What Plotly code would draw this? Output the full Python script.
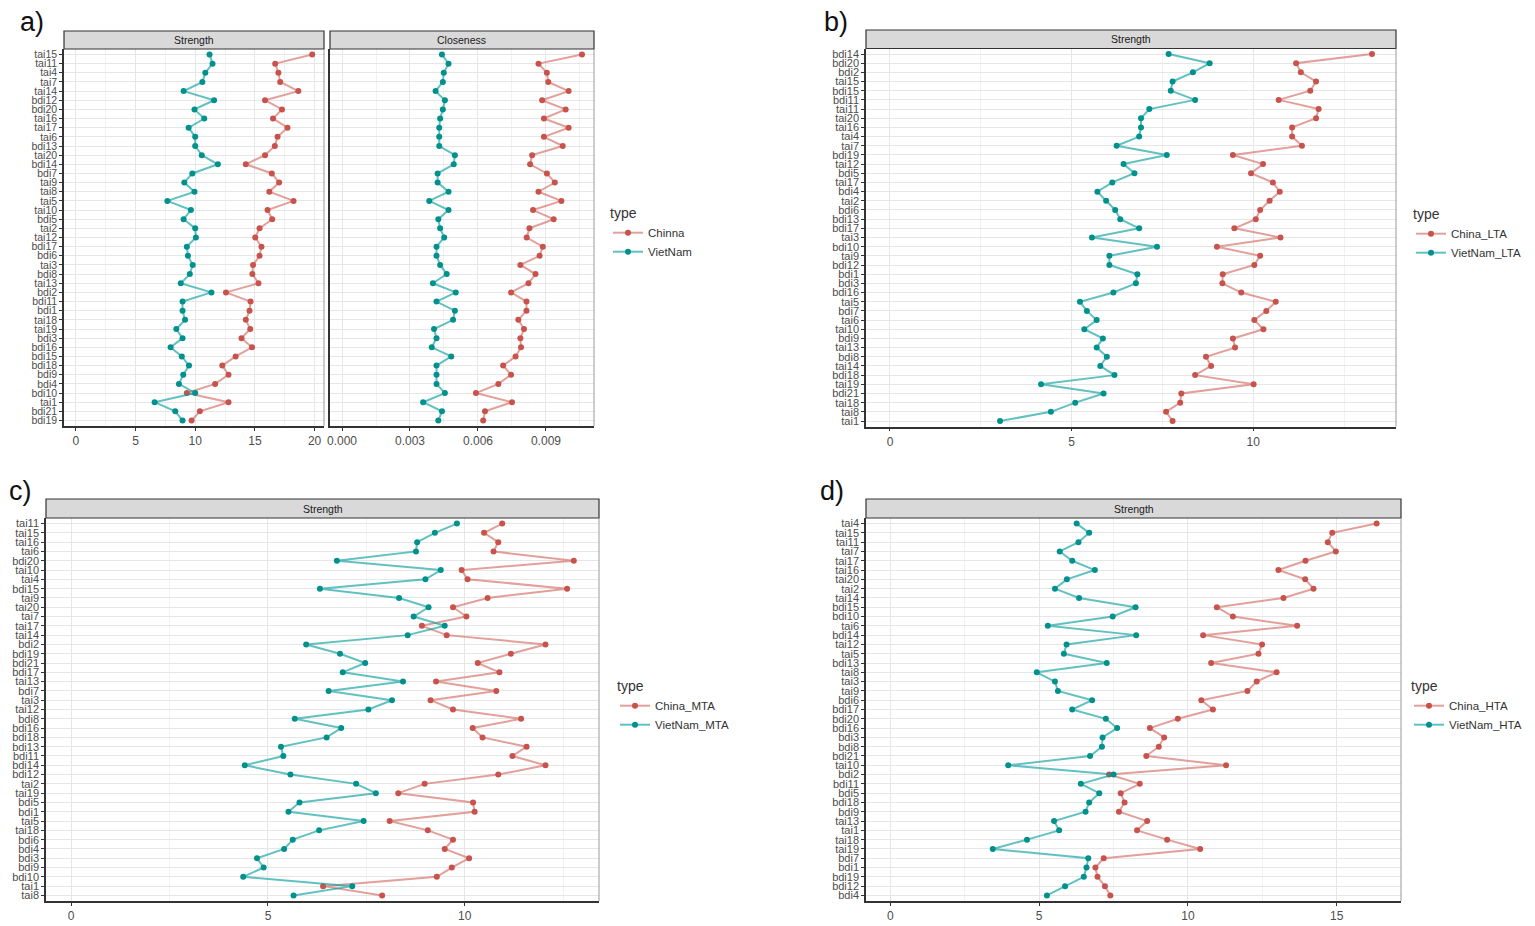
import plotly.graph_objects as go

# ---- data ----
# a) Strength + Closeness, China vs VietNam
a_nodes = ["tai15", "tai11", "tai4", "tai7", "tai14", "bdi12", "bdi20", "tai16", "tai17", "tai6",
           "bdi13", "tai20", "bdi14", "bdi7", "tai9", "tai8", "tai5", "tai10", "bdi5", "tai2",
           "tai12", "bdi17", "bdi6", "tai3", "bdi8", "tai13", "bdi2", "bdi11", "bdi1", "tai18",
           "tai19", "bdi3", "bdi16", "bdi15", "bdi18", "bdi9", "bdi4", "bdi10", "tai1", "bdi21", "bdi19"]
a_strength_china = [19.8, 16.7, 16.97, 17.12, 18.64, 15.85, 17.27, 16.52, 17.73, 16.9,
                    16.67, 15.85, 14.24, 16.42, 17.03, 16.21, 18.24, 16.06, 16.45, 15.39,
                    15.03, 15.55, 15.39, 14.85, 14.79, 15.3, 12.58, 14.64, 14.55, 14.24,
                    14.61, 13.88, 14.76, 13.39, 12.27, 12.79, 11.67, 9.3, 12.79, 10.39, 9.7]
a_strength_vn = [11.2, 11.45, 10.85, 10.6, 9.03, 11.58, 9.94, 10.76, 9.45, 10.0,
                 10.0, 10.55, 11.9, 9.76, 9.09, 9.94, 7.67, 9.64, 9.03, 10.0,
                 10.06, 9.3, 9.39, 9.79, 9.55, 8.79, 11.36, 8.94, 8.94, 9.15,
                 8.42, 8.94, 7.94, 8.88, 9.48, 9.0, 8.64, 10.0, 6.6, 8.33, 8.94]
a_close_china = [0.01059, 0.00867, 0.00904, 0.0091, 0.01, 0.00883, 0.00987, 0.00891, 0.01, 0.00891,
                 0.00974, 0.00839, 0.0083, 0.00904, 0.00939, 0.00867, 0.00968, 0.00843, 0.00934, 0.00827,
                 0.00815, 0.00886, 0.00872, 0.00787, 0.00854, 0.00823, 0.00746, 0.00814, 0.00814, 0.00778,
                 0.00803, 0.00787, 0.0079, 0.00766, 0.00711, 0.00746, 0.0069, 0.00591, 0.0075, 0.00631, 0.00623]
a_close_vn = [0.00441, 0.0047, 0.00449, 0.00445, 0.00413, 0.00454, 0.00445, 0.00433, 0.00429, 0.00429,
              0.00429, 0.00498, 0.00493, 0.00422, 0.00422, 0.0047, 0.00385, 0.0047, 0.00425, 0.00433,
              0.00451, 0.00417, 0.00417, 0.00433, 0.00462, 0.00401, 0.00502, 0.00417, 0.00498, 0.0049,
              0.00406, 0.00417, 0.00396, 0.00482, 0.00417, 0.00417, 0.00417, 0.00454, 0.00358, 0.00441, 0.00425]

# b) Strength, LTA
b_nodes = ["bdi14", "bdi20", "bdi2", "tai15", "bdi15", "bdi11", "tai11", "tai20", "tai16", "tai4",
           "tai7", "bdi19", "tai12", "bdi5", "tai17", "bdi4", "tai2", "bdi6", "bdi13", "bdi17",
           "tai3", "bdi10", "tai9", "bdi12", "bdi1", "bdi3", "bdi16", "tai5", "bdi7", "tai6",
           "tai10", "bdi9", "tai13", "bdi8", "tai14", "bdi18", "tai19", "bdi21", "tai18", "tai8", "tai1"]
b_china = [13.27, 11.18, 11.31, 11.73, 11.57, 10.7, 11.8, 11.73, 11.07, 11.07,
           11.34, 9.44, 10.27, 9.94, 10.54, 10.73, 10.45, 10.19, 10.07, 9.48,
           10.75, 9.0, 10.19, 10.03, 9.16, 9.15, 9.67, 10.62, 10.36, 10.03,
           10.28, 9.44, 9.5, 8.7, 8.84, 8.4, 10.01, 8.02, 7.99, 7.6, 7.78]
b_vn = [7.67, 8.8, 8.34, 7.78, 7.73, 8.4, 7.14, 6.91, 6.91, 6.86,
        6.24, 7.62, 6.43, 6.73, 6.12, 5.71, 5.95, 6.2, 6.34, 6.86,
        5.56, 7.35, 6.04, 6.04, 6.81, 6.77, 6.15, 5.23, 5.42, 5.69,
        5.35, 5.86, 5.69, 5.97, 5.79, 6.18, 4.16, 5.88, 5.1, 4.43, 3.03]

# c) Strength, MTA
c_nodes = ["tai11", "tai15", "tai16", "tai6", "bdi20", "tai10", "tai4", "bdi15", "tai9", "tai20",
           "tai7", "tai17", "tai14", "bdi2", "bdi19", "bdi21", "bdi17", "tai13", "bdi7", "tai3",
           "tai12", "bdi8", "bdi16", "bdi18", "bdi13", "bdi11", "bdi14", "bdi12", "tai2", "tai19",
           "bdi5", "bdi1", "tai5", "tai18", "bdi6", "bdi4", "bdi3", "bdi9", "bdi10", "tai1", "tai8"]
c_china = [10.95, 10.49, 10.85, 10.73, 12.77, 9.92, 10.07, 12.6, 10.58, 9.7,
           10.04, 8.91, 9.54, 12.05, 11.17, 10.33, 10.88, 9.27, 10.8, 9.13,
           9.7, 11.43, 10.2, 10.45, 11.57, 11.21, 12.05, 10.85, 8.98, 8.31,
           10.21, 10.25, 8.09, 9.06, 9.7, 9.49, 10.11, 9.67, 9.29, 6.4, 7.9]
c_vn = [9.8, 9.24, 8.79, 8.76, 6.75, 9.39, 9.0, 6.32, 8.33, 9.08,
        8.7, 9.49, 8.55, 5.97, 6.83, 7.47, 6.9, 8.43, 6.54, 8.15,
        7.55, 5.68, 6.86, 6.49, 5.33, 5.39, 4.41, 5.57, 7.24, 7.74,
        5.8, 5.52, 7.43, 6.3, 5.63, 5.41, 4.72, 4.89, 4.37, 7.14, 5.65]

# d) Strength, HTA
d_nodes = ["tai4", "tai15", "tai11", "tai7", "tai17", "tai16", "tai20", "tai2", "tai14", "bdi15",
           "bdi10", "tai6", "bdi14", "tai12", "tai5", "bdi13", "tai8", "tai3", "tai9", "bdi6",
           "bdi17", "bdi20", "bdi16", "bdi3", "bdi8", "bdi21", "tai10", "bdi2", "bdi11", "bdi5",
           "bdi18", "bdi9", "tai13", "tai1", "tai18", "tai19", "bdi7", "bdi1", "bdi19", "bdi12", "bdi4"]
d_china = [16.34, 14.85, 14.7, 14.97, 13.95, 13.04, 13.94, 14.22, 13.21, 10.97,
           11.51, 13.67, 10.51, 12.49, 12.37, 10.78, 12.98, 12.31, 12.0, 10.45,
           10.84, 9.66, 8.72, 9.2, 9.02, 8.6, 11.28, 7.35, 8.38, 7.74,
           7.87, 7.68, 8.63, 8.29, 9.3, 10.41, 7.17, 6.89, 6.96, 7.21, 7.39]
d_vn = [6.26, 6.68, 6.32, 5.69, 6.11, 6.87, 5.93, 5.53, 6.34, 8.24,
        7.47, 5.29, 8.26, 5.92, 5.83, 7.27, 4.92, 5.53, 5.63, 6.78,
        6.11, 7.24, 7.62, 7.13, 7.11, 6.71, 3.96, 7.5, 6.4, 7.02,
        6.68, 6.56, 5.5, 5.67, 4.59, 3.44, 6.65, 6.59, 6.5, 5.87, 5.26]

# the page body has an 8px margin, so the figure is a bit smaller than the window
OFF = 8
W, H = 1535 - OFF, 926 - OFF
RED_PT, RED_LN = "#C8524C", "rgba(210,100,92,0.62)"
TEAL_PT, TEAL_LN = "#00918D", "rgba(0,155,155,0.62)"
GRID, MINOR = "#E6E6E6", "#F2F2F2"


def fx(x):
    return (x - OFF) / W


def fy(y):
    return 1 - (y - OFF) / H


def px_x(a, b):
    return [fx(a), fx(b)]


def px_y(top, bottom):
    return [fy(bottom), fy(top)]


fig = go.Figure()


def add_pair(x_cn, x_vn, nodes, xa, ya, names, legend):
    for vals, name, pt, ln in [(x_cn, names[0], RED_PT, RED_LN),
                               (x_vn, names[1], TEAL_PT, TEAL_LN)]:
        fig.add_trace(go.Scatter(x=vals, y=nodes, mode="lines+markers", name=name,
                                 line=dict(color=ln, width=2),
                                 marker=dict(color=pt, size=6),
                                 xaxis=xa, yaxis=ya, legend=legend, showlegend=names[2]))


add_pair(a_strength_china, a_strength_vn, a_nodes, "x", "y", ("Chinna", "VietNam", True), "legend")
add_pair(a_close_china, a_close_vn, a_nodes, "x2", "y2", ("Chinna", "VietNam", False), "legend")
add_pair(b_china, b_vn, b_nodes, "x3", "y3", ("China_LTA", "VietNam_LTA", True), "legend2")
add_pair(c_china, c_vn, c_nodes, "x4", "y4", ("China_MTA", "VietNam_MTA", True), "legend3")
add_pair(d_china, d_vn, d_nodes, "x5", "y5", ("China_HTA", "VietNam_HTA", True), "legend4")


def xcfg(domain, anchor, rng, dtick, minor, fmt=None):
    d = dict(domain=domain, anchor=anchor, range=rng, dtick=dtick, tick0=0,
             showgrid=True, gridcolor=GRID, zeroline=False,
             minor=dict(dtick=minor, tick0=0, showgrid=True, gridcolor=MINOR),
             showline=True, linecolor="#333333", linewidth=1.5,
             ticks="outside", ticklen=3, tickcolor="#333333",
             tickfont=dict(size=12, color="#4D4D4D", family="Liberation Sans"))
    if fmt:
        d["tickformat"] = fmt
    return d


def ycfg(domain, anchor, nodes, labels=True, size=11):
    return dict(domain=domain, anchor=anchor, type="category",
                categoryorder="array", categoryarray=nodes,
                range=[len(nodes) - 0.4, -0.6],
                tickmode="array", tickvals=nodes, ticktext=nodes,
                showgrid=True, gridcolor=GRID, zeroline=False,
                showline=True, linecolor="#333333", linewidth=1.5,
                ticks="outside" if labels else "", ticklen=3, tickcolor="#333333",
                showticklabels=labels,
                tickfont=dict(size=size, color="#4D4D4D", family="Liberation Sans"))


ya_dom = px_y(49, 426)
yb_dom = px_y(48.5, 426.5)
ycd_dom = px_y(518, 901)

fig.update_layout(
    width=W, height=H, margin=dict(l=0, r=0, t=0, b=0, autoexpand=False),
    paper_bgcolor="white", plot_bgcolor="white",
    font=dict(family="Liberation Sans", color="#333333"),
    xaxis=xcfg(px_x(64, 324), "y", [-0.99, 20.79], 5, 2.5),
    yaxis=ycfg(ya_dom, "x", a_nodes, size=10.5),
    xaxis2=xcfg(px_x(330, 594), "y2", [-0.00053, 0.01112], 0.003, 0.0015, ".3f"),
    yaxis2=ycfg(ya_dom, "x2", a_nodes, labels=False),
    xaxis3=xcfg(px_x(866, 1396), "y3", [-0.66, 13.93], 5, 2.5),
    yaxis3=ycfg(yb_dom, "x3", b_nodes),
    xaxis4=xcfg(px_x(46, 599), "y4", [-0.64, 13.41], 5, 2.5),
    yaxis4=ycfg(ycd_dom, "x4", c_nodes),
    xaxis5=xcfg(px_x(866, 1401), "y5", [-0.82, 17.16], 5, 2.5),
    yaxis5=ycfg(ycd_dom, "x5", d_nodes),
)

leg_common = dict(xanchor="left", yanchor="top", bgcolor="rgba(0,0,0,0)",
                  font=dict(size=11.5, color="#333333"), tracegroupgap=2, itemwidth=30,
                  title=dict(text="type", font=dict(size=14, color="#333333")))
fig.update_layout(
    legend=dict(x=fx(608), y=fy(200), **leg_common),
    legend2=dict(x=fx(1411), y=fy(201), **leg_common),
    legend3=dict(x=fx(615), y=fy(673), **leg_common),
    legend4=dict(x=fx(1409), y=fy(673), **leg_common),
)

# facet strips and right borders
strips = [(64, 324, 31, 49, "Strength"), (330, 594, 31, 49, "Closeness"),
          (866, 1396, 30, 48.5, "Strength"), (46, 599, 499, 518, "Strength"),
          (866, 1401, 499, 518, "Strength")]
for x0, x1, y0, y1, txt in strips:
    fig.add_shape(type="rect", xref="paper", yref="paper", x0=fx(x0), x1=fx(x1),
                  y0=fy(y1), y1=fy(y0), fillcolor="#D9D9D9",
                  line=dict(color="#333333", width=1.2), layer="above")
    fig.add_annotation(x=fx((x0 + x1) / 2), y=fy((y0 + y1) / 2), xref="paper", yref="paper",
                       xanchor="center", yanchor="middle",
                       text=txt, showarrow=False, font=dict(size=10.5, color="#1A1A1A"))

borders = [(324, 49, 426), (594, 49, 426), (1396, 48.5, 426.5), (599, 518, 901), (1401, 518, 901)]
for xr, yt, yb in borders:
    fig.add_shape(type="line", xref="paper", yref="paper", x0=fx(xr), x1=fx(xr),
                  y0=fy(yb), y1=fy(yt), line=dict(color="#9A9A9A", width=1))

for txt, x, y in [("a)", 32, 22), ("b)", 836, 22), ("c)", 20, 491), ("d)", 832, 491)]:
    fig.add_annotation(x=fx(x), y=fy(y), xref="paper", yref="paper", text=txt,
                       xanchor="center", yanchor="middle", showarrow=False,
                       font=dict(size=27, color="#111111", family="Liberation Sans"))

fig.write_html("out.html")
